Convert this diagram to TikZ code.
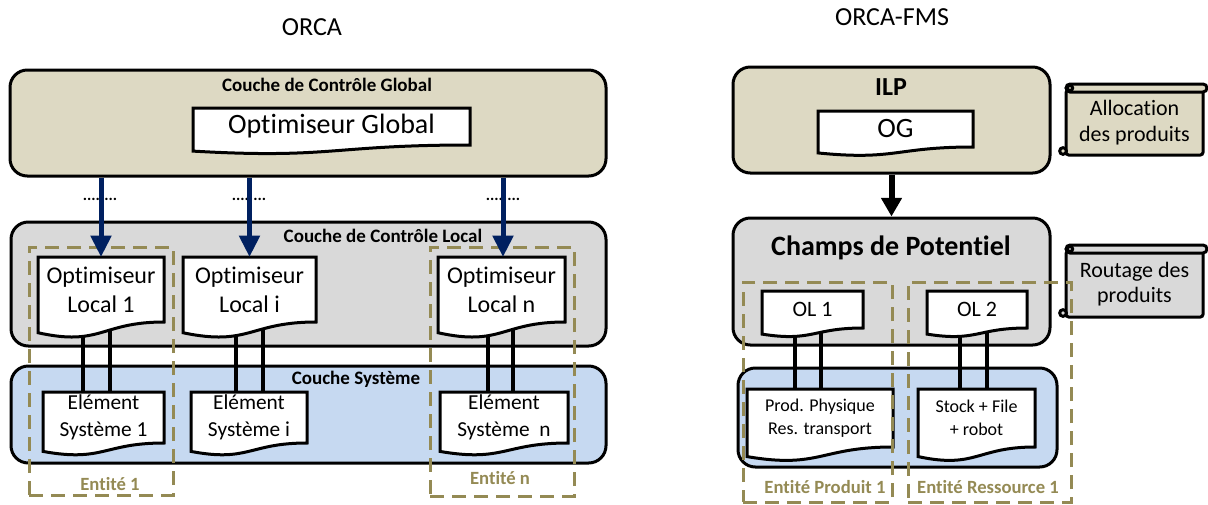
\documentclass[tikz,border=0pt]{standalone}
\usepackage{fontspec}
\setmainfont{Carlito}[Ligatures=NoCommon]
\usetikzlibrary{fit,arrows.meta}

\definecolor{tanfill}{HTML}{DDD9C3}
\definecolor{grayfill}{HTML}{D9D9D9}
\definecolor{bluefill}{HTML}{C6D9F1}
\definecolor{olive}{HTML}{948A54}
\definecolor{navy}{HTML}{002060}

\pgfdeclarelayer{back}
\pgfdeclarelayer{mid}
\pgfsetlayers{back,mid,main}

\tikzset{
  layerbox/.style={draw, line width=2.25pt, rounded corners=13pt, inner sep=0pt},
  layertitle/.style={font=\bfseries\fontsize{14.25}{17}\selectfont, inner sep=0pt},
  maintitle/.style={font=\fontsize{19.5}{23}\selectfont, inner sep=0pt},
  docline/.style={draw, fill=white, line width=2.25pt},
  doctext/.style={align=center, inner sep=0pt, outer sep=0pt},
  globtext/.style={font=\fontsize{21}{25}\selectfont},
  loctext/.style={font=\fontsize{18}{21.75}\selectfont},
  eltext/.style={font=\fontsize{16}{20.25}\selectfont},
  oltext/.style={font=\fontsize{16.5}{20}\selectfont},
  prodtext/.style={font=\fontsize{13.5}{17.25}\selectfont},
  scrolltext/.style={font=\fontsize{16.5}{19}\selectfont},
  link/.style={line width=3pt},
  navyarrow/.style={navy, line width=3.75pt, -{Triangle[width=15pt,length=16pt]}},
  blackarrow/.style={black, line width=4.5pt, -{Triangle[width=15pt,length=14pt]}},
  entitybox/.style={draw=olive, line width=2.25pt, dash pattern=on 10.5pt off 6pt, inner sep=0pt},
  entitylabel/.style={olive, font=\bfseries\fontsize{14}{17}\selectfont, inner sep=0pt},
  dotlabel/.style={font=\bfseries\fontsize{12}{14}\selectfont, inner sep=0pt},
  scrollline/.style={draw, line width=2.25pt}
}

% document shape: style, name, left, top, right, bottom of straight edge, text
\newcommand{\docnode}[7]{%
  \filldraw[docline] (#3,#4) -- (#5,#4) -- (#5,#6)
    .. controls ({(#3+#5)/2},#6) and ({(#3+#5)/2},{#4+1.38*(#6-#4)}) .. (#3,{#4+1.165*(#6-#4)}) -- cycle;
  \node[doctext, #1, minimum width={(#5-#3)*0.75pt}, minimum height={(#6-#4)*0.75pt}] (#2) at ({(#3+#5)/2},{(#4+#6)/2}) {#7};
}

% scroll shape: fill, name, left, top, right, bottom, text
\newcommand{\scrollnode}[7]{%
  \filldraw[scrollline, fill=#1, rounded corners=2pt] (#3,{#4+6}) rectangle (#5,#6);
  \filldraw[scrollline, fill=#1, rounded corners=3pt] (#3,#4) rectangle ({#5+4},{#4+8});
  \filldraw[scrollline, fill=#1] ({#3+4},{#4+4}) circle (2pt);
  \filldraw[scrollline, fill=#1] ({#3-3},{#6-4}) circle (2.5pt);
  \node[doctext, scrolltext] (#2) at ({(#3+#5)/2},{(#4+6+#6)/2}) {#7};
}

\begin{document}
\begin{tikzpicture}[x=0.75pt, y=-0.75pt]
\useasboundingbox (0,0) rectangle (1208,504);

% layers
\begin{pgfonlayer}{back}
\node[layerbox, fill=tanfill, fit={(10,70) (606,176)}] (glob) {};
\node[layerbox, fill=grayfill, fit={(11,222) (606,346)}] (loc) {};
\node[layerbox, fill=bluefill, fit={(11,366) (606,463)}] (sys) {};
\node[layerbox, fill=tanfill, fit={(733,67) (1050,173)}] (ilp) {};
\node[layerbox, fill=grayfill, fit={(733,218) (1050,345)}] (champs) {};
\node[layerbox, fill=bluefill, fit={(738,368) (1057,467)}] (res) {};
\end{pgfonlayer}

\node[maintitle] (orca) at (312,27) {ORCA};
\node[maintitle] (orcafms) at (892,17) {ORCA-FMS};
\node[layertitle] (globtitle) at (327,85) {Couche de Contrôle Global};
\node[layertitle] (loctitle) at (383,236) {Couche de Contrôle Local};
\node[layertitle] (systitle) at (356,379) {Couche Système};
\node[layertitle, font=\bfseries\fontsize{19.5}{23}\selectfont] (ilptitle) at (891,87) {ILP};
\node[layertitle, font=\bfseries\fontsize{21}{25}\selectfont] (champstitle) at (891,248) {Champs de Potentiel};

% ORCA
\docnode{globtext}{globopt}{193}{108}{470}{145}{Optimiseur Global}
\docnode{loctext}{loc1}{38}{257}{164}{322}{Optimiseur\\Local 1}
\docnode{loctext}{loci}{183}{257}{316}{322}{Optimiseur\\Local i}
\docnode{loctext}{locn}{438}{257}{565}{322}{Optimiseur\\Local n}
\docnode{eltext}{el1}{43}{392}{164}{443}{Elément\\Système 1}
\docnode{eltext}{eli}{191}{392}{307}{443}{Elément\\Système i}
\docnode{eltext}{eln}{440}{392}{568}{443}{Elément\\Système\ \ n}

% ORCA-FMS
\docnode{globtext}{og}{818}{111}{973}{147}{OG}
\docnode{oltext}{ol1}{762}{291}{863}{328}{OL 1}
\docnode{oltext}{ol2}{927}{291}{1027}{328}{OL 2}
\docnode{prodtext}{prod}{747}{389}{893}{447}{Prod. Physique\\Res. transport}
\docnode{prodtext}{stock}{918}{389}{1035}{447}{Stock + File\\+ robot}
\scrollnode{tanfill}{alloc}{1066}{84}{1203}{155}{Allocation\\des produits}
\scrollnode{grayfill}{routage}{1066}{245}{1203}{317}{Routage des\\produits}

\begin{pgfonlayer}{mid}
\draw[link] (loc1.south -| 83,0) -- (el1.north -| 83,0);
\draw[link] (loc1.south -| 110,0) -- (el1.north -| 110,0);
\draw[link] (loci.south -| 236,0) -- (eli.north -| 236,0);
\draw[link] (loci.south -| 263,0) -- (eli.north -| 263,0);
\draw[link] (locn.south -| 488,0) -- (eln.north -| 488,0);
\draw[link] (locn.south -| 513,0) -- (eln.north -| 513,0);
\draw[link] (ol1.south -| 795,0) -- (prod.north -| 795,0);
\draw[link] (ol1.south -| 821,0) -- (prod.north -| 821,0);
\draw[link] (ol2.south -| 960,0) -- (stock.north -| 960,0);
\draw[link] (ol2.south -| 987,0) -- (stock.north -| 987,0);
\end{pgfonlayer}

% entities
\node[entitybox, fit={(29,247) (173,495)}] (ent1) {};
\node[entitybox, fit={(430,247) (574,496)}] (entn) {};
\node[entitybox, fit={(743,282) (892,502)}] (entprod) {};
\node[entitybox, fit={(908,282) (1071,502)}] (entres) {};
\node[entitylabel] (ent1label) at (110,484) {Entité 1};
\node[entitylabel] (entnlabel) at (500,478) {Entité n};
\node[entitylabel] (entprodlabel) at (825,487) {Entité Produit 1};
\node[entitylabel] (entreslabel) at (988,487) {Entité Ressource 1};

% arrows
\node[dotlabel] (dots1) at (100,199) {........};
\node[dotlabel] (dotsi) at (249,199) {........};
\node[dotlabel] (dotsn) at (503,199) {........};
\draw[navyarrow] (glob.south -| loc1.north) -- (loc1.north);
\draw[navyarrow] (glob.south -| loci.north) -- (loci.north);
\draw[navyarrow] (glob.south -| 503,0) -- (locn.north -| 503,0);
\draw[blackarrow] (ilp.south) -- (champs.north);
\end{tikzpicture}
\end{document}
